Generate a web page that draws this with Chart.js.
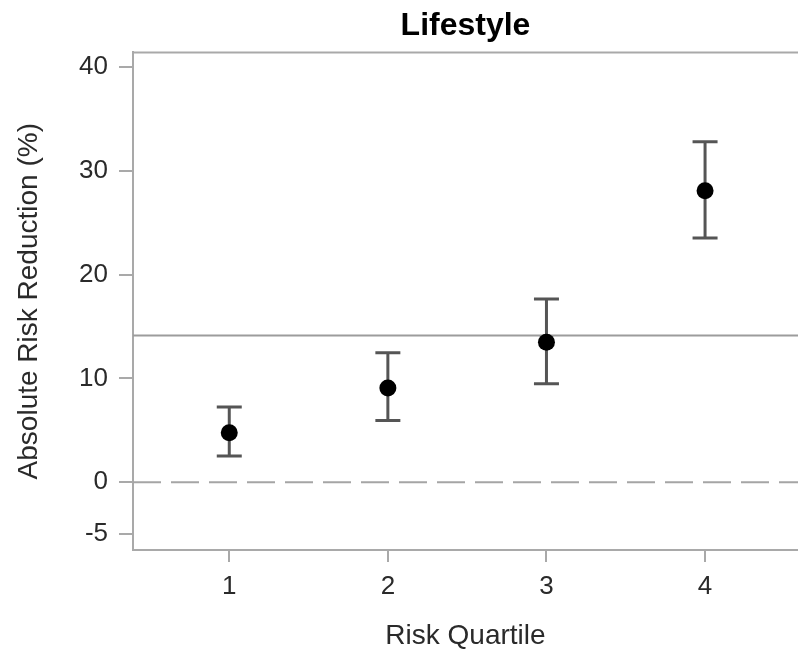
<!DOCTYPE html>
<html>
<head>
<meta charset="utf-8">
<script src="https://cdn.jsdelivr.net/npm/chart.js@4/dist/chart.umd.min.js"></script>
<style>
  body { margin: 0; background: #fff; }
  canvas { display: block; }
</style>
</head>
<body>
<canvas id="arrChart" width="798" height="654"></canvas>
<script>
// valeurs
const quartiles = [1, 2, 3, 4];
const arrValues = [4.78, 9.07, 13.49, 28.08];
const lowerCI = [2.53, 5.96, 9.49, 23.53];
const upperCI = [7.24, 12.47, 17.66, 32.79];
const overallArr = 14.13;
const zeroLine = 0;
const yTicks = [-5, 0, 10, 20, 30, 40];
const xTicks = [1, 2, 3, 4];
const xMin = 0.393, xMax = 4.586;
const yMin = -6.52, yMax = 41.4;

const fontFamily = "'Liberation Sans', Arial, sans-serif";
const axisColor = '#a9a9a9';
const barColor = '#555555';
const textColor = '#2a2a2a';

const datasets = [];

// ligne globale + ligne zéro
datasets.push({
    data: [{ x: xMin, y: overallArr }, { x: xMax, y: overallArr }],
    showLine: true,
    borderColor: '#9c9c9c',
    borderWidth: 2,
    pointRadius: 0,
    order: 3
});
datasets.push({
    data: [{ x: xMin, y: zeroLine }, { x: xMax, y: zeroLine }],
    showLine: true,
    borderColor: '#a5a5a5',
    borderWidth: 2,
    borderDash: [28, 10],
    pointRadius: 0,
    order: 3
});

// barres d'erreur (IC)
quartiles.forEach((q, i) => {
    datasets.push({
        data: [{ x: q, y: lowerCI[i] }, { x: q, y: upperCI[i] }],
        showLine: true,
        borderColor: barColor,
        borderWidth: 3,
        pointStyle: 'line',
        pointRadius: 12.5,
        pointBorderWidth: 3,
        pointBorderColor: barColor,
        order: 2
    });
});

// points
datasets.push({
    data: quartiles.map((q, i) => ({ x: q, y: arrValues[i] })),
    pointRadius: 8.5,
    pointBackgroundColor: '#000',
    pointBorderColor: '#000',
    pointBorderWidth: 0,
    order: 1
});

// cadre du haut
const topBorder = {
    id: 'topBorder',
    afterDraw(chart) {
        const { ctx, chartArea } = chart;
        ctx.save();
        ctx.strokeStyle = axisColor;
        ctx.lineWidth = 2;
        ctx.beginPath();
        ctx.moveTo(chartArea.left - 1, chartArea.top);
        ctx.lineTo(chartArea.right, chartArea.top);
        ctx.stroke();
        ctx.restore();
    }
};

new Chart(document.getElementById('arrChart'), {
    type: 'scatter',
    data: { datasets: datasets },
    plugins: [topBorder],
    options: {
        responsive: false,
        animation: false,
        layout: { padding: 0, autoPadding: false },
        plugins: {
            legend: { display: false },
            tooltip: { enabled: false },
            title: {
                display: true,
                text: 'Lifestyle',
                fullSize: false,
                color: '#000',
                font: { family: fontFamily, size: 32, weight: 'bold' },
                padding: { top: 7, bottom: 7 }
            }
        },
        scales: {
            x: {
                type: 'linear',
                min: xMin,
                max: xMax,
                afterBuildTicks: (scale) => { scale.ticks = xTicks.map(v => ({ value: v })); },
                afterFit: (scale) => {
                    scale.height = 104;
                    scale.paddingLeft = 0;
                    scale.paddingRight = 0;
                },
                border: { display: true, color: axisColor, width: 2 },
                grid: { drawOnChartArea: false, drawTicks: true, tickLength: 12, color: axisColor, lineWidth: 2 },
                ticks: {
                    padding: 9,
                    color: textColor,
                    font: { family: fontFamily, size: 26 },
                    callback: (v) => v
                },
                title: {
                    display: true,
                    text: 'Risk Quartile',
                    color: textColor,
                    font: { family: fontFamily, size: 28 },
                    padding: { top: 0, bottom: 1 }
                }
            },
            y: {
                type: 'linear',
                min: yMin,
                max: yMax,
                afterBuildTicks: (scale) => { scale.ticks = yTicks.map(v => ({ value: v })); },
                afterFit: (scale) => { scale.width = 133; },
                border: { display: true, color: axisColor, width: 2 },
                grid: { drawOnChartArea: false, drawTicks: true, tickLength: 14, color: axisColor, lineWidth: 2 },
                ticks: {
                    padding: 11,
                    color: textColor,
                    font: { family: fontFamily, size: 26 },
                    callback: (v) => v
                },
                title: {
                    display: true,
                    text: 'Absolute Risk Reduction (%)',
                    color: textColor,
                    font: { family: fontFamily, size: 28 },
                    padding: { top: 12, bottom: 0 }
                }
            }
        }
    }
});
</script>
</body>
</html>
